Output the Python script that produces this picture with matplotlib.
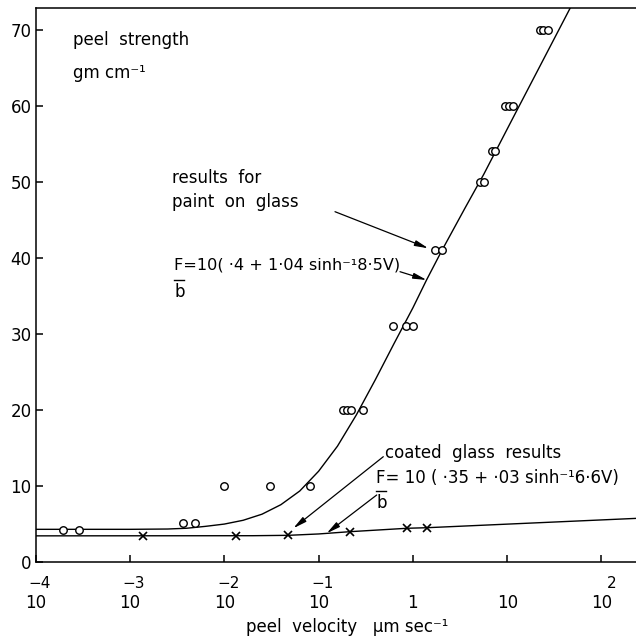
import matplotlib
matplotlib.use("Agg")
import matplotlib.pyplot as plt
from matplotlib.lines import Line2D
from matplotlib.patches import FancyArrowPatch

# ---- data ----
# paint on glass: measured points (velocity in um/s, peel strength gm/cm)
paint_v = [1.93e-4, 2.86e-4, 3.67e-3, 4.85e-3, 0.0099, 0.0306, 0.0813,
           0.183, 0.201, 0.219, 0.294, 0.611, 0.845, 0.995, 1.71, 2.02,
           5.14, 5.66, 6.85, 7.43, 9.40, 10.4, 11.5, 22.3, 24.2, 27.3]
paint_f = [4.2, 4.2, 5.05, 5.05, 10.0, 10.0, 10.0,
           20.0, 20.0, 20.0, 20.0, 31.0, 31.0, 31.0, 41.0, 41.0,
           50.0, 50.0, 54.0, 54.0, 60.0, 60.0, 60.0, 70.0, 70.0, 70.0]

# coated glass: measured points
coated_v = [1.38e-3, 0.0132, 0.0478, 0.215, 0.873, 1.40]
coated_f = [3.4, 3.4, 3.45, 3.95, 4.4, 4.47]

# fitted curves as drawn in the picture
paint_curve_v = [1e-4, 1e-3, 0.00251, 0.00398, 0.00631, 0.01, 0.01585,
                 0.0251, 0.0398, 0.0631, 0.1, 0.1585, 0.251, 0.398, 0.631,
                 1.0, 1.40, 2.02, 3.56, 5.66, 11.2, 50.1]
paint_curve_f = [4.26, 4.26, 4.3, 4.4, 4.65, 4.95, 5.45,
                 6.25, 7.5, 9.3, 11.9, 15.2, 19.3, 23.9, 28.7,
                 33.4, 37.1, 40.9, 46.5, 51.0, 58.1, 73.6]
coated_curve_v = [1e-4, 0.02, 0.0478, 0.1, 0.215, 0.873, 1.40, 233.0]
coated_curve_f = [3.4, 3.42, 3.47, 3.65, 3.95, 4.4, 4.47, 5.7]

x_ticks = [1e-4, 1e-3, 1e-2, 1e-1, 1, 10, 100]
x_base = ["10", "10", "10", "10", "1", "10", "10"]
x_exp = ["−4", "−3", "−2", "−1", "", "", "2"]
y_ticks = [0, 10, 20, 30, 40, 50, 60, 70]

W, H = 636, 637
fig = plt.figure(figsize=(W / 100, H / 100), dpi=100)
plt.rcParams['font.family'] = ['DejaVu Sans']
FS = 12

left, right, bottom, top = 35.7, 636, 561.7, 8
ax = fig.add_axes([left / W, 1 - bottom / H, (right - left) / W, (bottom - top) / H])
ax.set_xscale('log')
ax.set_xlim(1e-4, 10 ** 2.366)
ax.set_ylim(0, 72.85)

for s in ['left', 'bottom', 'top']:
    ax.spines[s].set_linewidth(1.1)
ax.spines['right'].set_visible(False)

ax.plot(paint_curve_v, paint_curve_f, color='black', lw=1.0)
ax.plot(coated_curve_v, coated_curve_f, color='black', lw=1.0)
ax.plot(paint_v, paint_f, linestyle='none', marker='o', ms=5.4,
        mfc='white', mec='black', mew=1.0, zorder=3)
ax.plot(coated_v, coated_f, linestyle='none', marker='x', ms=5.5,
        mec='black', mew=1.2, zorder=3)

ax.set_yticks(y_ticks)
ax.set_yticklabels([str(v) for v in y_ticks], fontsize=FS)
ax.set_xticks(x_ticks)
ax.set_xticklabels(x_base, fontsize=FS)
ax.xaxis.set_minor_locator(matplotlib.ticker.NullLocator())
ax.tick_params(axis='both', direction='in', length=5, width=1.1)
ax.tick_params(axis='y', pad=3)
ax.tick_params(axis='x', pad=23)

for xv, e in zip(x_ticks, x_exp):
    if e:
        ax.annotate(e, xy=(xv, 0), xycoords=('data', 'axes fraction'),
                    xytext=(11, -16), textcoords='offset points',
                    ha='right', va='center', fontsize=FS - 1)


def ftext(x, y, s, **kw):
    fig.text(x / W, 1 - y / H, s, fontsize=kw.pop('fontsize', FS),
             va=kw.pop('va', 'center'), ha=kw.pop('ha', 'left'), **kw)


ftext(73, 40, "peel  strength")
ftext(73, 73, "gm cm⁻¹")
ftext(172, 178, "results  for")
ftext(172, 202, "paint  on  glass")

ftext(174, 265, "F=10( ·4 + 1·04 sinh⁻¹8·5V)", fontsize=11.6)
ftext(174, 292, "b")
fig.add_artist(Line2D([174 / W, 184 / W], [1 - 280 / H, 1 - 280 / H],
                      color='black', lw=1.0))

ftext(385, 453, "coated  glass  results")
ftext(376, 478, "F= 10 ( ·35 + ·03 sinh⁻¹6·6V)")
ftext(376, 503, "b")
fig.add_artist(Line2D([376 / W, 386 / W], [1 - 491 / H, 1 - 491 / H],
                      color='black', lw=1.0))

ftext(347, 627, "peel  velocity   µm sec⁻¹", ha='center')

for (x0, y0, x1, y1) in [(335, 211.7, 428.3, 248.3),
                         (400, 271.7, 426.7, 280),
                         (383.3, 456.7, 293.3, 528.3),
                         (376.7, 495, 326.7, 533.3)]:
    fig.add_artist(FancyArrowPatch(
        (x0 / W, 1 - y0 / H), (x1 / W, 1 - y1 / H),
        transform=fig.transFigure,
        arrowstyle='-|>,head_length=0.8,head_width=0.17', mutation_scale=10,
        lw=0.9, color='black', shrinkA=0, shrinkB=0))

fig.savefig("out.png", dpi=100)
